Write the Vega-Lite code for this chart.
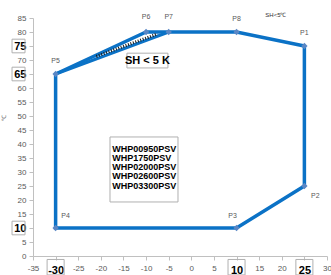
{
  "$schema": "https://vega.github.io/schema/vega-lite/v6.json",
  "width": 294,
  "height": 238,
  "autosize": {"type": "none"},
  "padding": {"left": 33, "top": 18, "right": 4, "bottom": 19},
  "config": {"view": {"stroke": null}, "font": "Liberation Sans", "axis": {"labelOverlap": false, "labelFlush": false, "labelBound": false}},
  "resolve": {"axis": {"x": "independent", "y": "independent"}},
  "datasets": {
    "points": [
      {"name": "P1", "ambient": 25, "water": 75},
      {"name": "P2", "ambient": 25, "water": 25},
      {"name": "P3", "ambient": 10, "water": 10},
      {"name": "P4", "ambient": -30, "water": 10},
      {"name": "P5", "ambient": -30, "water": 65},
      {"name": "P6", "ambient": -10, "water": 80},
      {"name": "P7", "ambient": -5, "water": 80},
      {"name": "P8", "ambient": 10, "water": 80}
    ],
    "outline": [
      {"seq": 1, "ambient": 25, "water": 75},
      {"seq": 2, "ambient": 25, "water": 25},
      {"seq": 3, "ambient": 10, "water": 10},
      {"seq": 4, "ambient": -30, "water": 10},
      {"seq": 5, "ambient": -30, "water": 65},
      {"seq": 6, "ambient": -10, "water": 80},
      {"seq": 7, "ambient": -5, "water": 80},
      {"seq": 8, "ambient": 10, "water": 80},
      {"seq": 9, "ambient": 25, "water": 75}
    ],
    "chord": [
      {"ambient": -30, "water": 65},
      {"ambient": -5, "water": 80}
    ],
    "hatch": [
      {"ambient": -21, "water": 71.3},
      {"ambient": -7.5, "water": 79.3}
    ],
    "models": [
      {"text": "WHP00950PSV\nWHP1750PSV\nWHP02000PSV\nWHP02600PSV\nWHP03300PSV"}
    ],
    "xboxes": [{"v": -30}, {"v": 10}, {"v": 25}],
    "yboxes": [{"v": 75}, {"v": 65}, {"v": 10}]
  },
  "layer": [
    {
      "data": {"name": "outline"},
      "mark": {"type": "line", "color": "#0B72C6", "strokeWidth": 3.5},
      "encoding": {
        "x": {
          "field": "ambient", "type": "quantitative",
          "scale": {"domain": [-35, 30], "nice": false, "zero": false},
          "axis": {
            "values": [-35, -30, -25, -20, -15, -10, -5, 0, 5, 10, 15, 20, 25, 30],
            "title": null, "grid": false,
            "domainColor": "#c0c0c0", "tickColor": "#c0c0c0", "tickSize": 4,
            "labelExpr": "datum.value + ''",
            "labelOverlap": false, "labelFlush": false, "labelPadding": 4,
            "labelFontSize": {"condition": {"test": "datum.value == -30 || datum.value == 10 || datum.value == 25", "value": 11}, "value": 8},
            "labelFontWeight": {"condition": {"test": "datum.value == -30 || datum.value == 10 || datum.value == 25", "value": "bold"}, "value": "normal"},
            "labelColor": {"condition": {"test": "datum.value == -30 || datum.value == 10 || datum.value == 25", "value": "#000000"}, "value": "#595959"}
          }
        },
        "y": {
          "field": "water", "type": "quantitative",
          "scale": {"domain": [0, 85], "nice": false},
          "axis": {
            "values": [0, 5, 10, 15, 20, 25, 30, 35, 40, 45, 50, 55, 60, 65, 70, 75, 80, 85],
            "title": "℃", "titleFontSize": 6, "titleColor": "#595959", "titleFontWeight": "normal",
            "titleX": -27, "titleY": 99,
            "grid": false,
            "domainColor": "#c0c0c0", "tickColor": "#c0c0c0", "tickSize": 4,
            "labelOverlap": false, "labelFlush": false, "labelPadding": 3,
            "labelFontSize": {"condition": {"test": "datum.value == 75 || datum.value == 65 || datum.value == 10", "value": 11}, "value": 8},
            "labelFontWeight": {"condition": {"test": "datum.value == 75 || datum.value == 65 || datum.value == 10", "value": "bold"}, "value": "normal"},
            "labelColor": {"condition": {"test": "datum.value == 75 || datum.value == 65 || datum.value == 10", "value": "#000000"}, "value": "#595959"}
          }
        },
        "order": {"field": "seq", "type": "quantitative"}
      }
    },
    {
      "data": {"name": "chord"},
      "mark": {"type": "line", "color": "#0B72C6", "strokeWidth": 3},
      "encoding": {
        "x": {"field": "ambient", "type": "quantitative", "axis": null},
        "y": {"field": "water", "type": "quantitative", "axis": null}
      }
    },
    {
      "data": {"name": "hatch"},
      "mark": {"type": "line", "color": "#1a1a1a", "strokeWidth": 3, "strokeDash": [1, 1.6]},
      "encoding": {
        "x": {"field": "ambient", "type": "quantitative", "axis": null},
        "y": {"field": "water", "type": "quantitative", "axis": null}
      }
    },
    {
      "data": {"name": "points"},
      "mark": {"type": "point", "shape": "diamond", "filled": true, "color": "#5A87C5", "size": 40, "opacity": 1},
      "encoding": {
        "x": {"field": "ambient", "type": "quantitative", "axis": null},
        "y": {"field": "water", "type": "quantitative", "axis": null}
      }
    },
    {
      "data": {"name": "points"},
      "transform": [{"filter": "datum.name == 'P1' || datum.name == 'P5' || datum.name == 'P8'"}],
      "mark": {"type": "text", "fontSize": 7, "color": "#595959", "dy": -13},
      "encoding": {
        "x": {"field": "ambient", "type": "quantitative", "axis": null},
        "y": {"field": "water", "type": "quantitative", "axis": null},
        "text": {"field": "name"}
      }
    },
    {
      "data": {"name": "points"},
      "transform": [{"filter": "datum.name == 'P6' || datum.name == 'P7'"}],
      "mark": {"type": "text", "fontSize": 7, "color": "#595959", "dy": -15},
      "encoding": {
        "x": {"field": "ambient", "type": "quantitative", "axis": null},
        "y": {"field": "water", "type": "quantitative", "axis": null},
        "text": {"field": "name"}
      }
    },
    {
      "data": {"name": "points"},
      "transform": [{"filter": "datum.name == 'P2'"}],
      "mark": {"type": "text", "fontSize": 7, "color": "#595959", "dx": 11, "dy": 10},
      "encoding": {
        "x": {"field": "ambient", "type": "quantitative", "axis": null},
        "y": {"field": "water", "type": "quantitative", "axis": null},
        "text": {"field": "name"}
      }
    },
    {
      "data": {"name": "points"},
      "transform": [{"filter": "datum.name == 'P3'"}],
      "mark": {"type": "text", "fontSize": 7, "color": "#595959", "dx": -4, "dy": -12},
      "encoding": {
        "x": {"field": "ambient", "type": "quantitative", "axis": null},
        "y": {"field": "water", "type": "quantitative", "axis": null},
        "text": {"field": "name"}
      }
    },
    {
      "data": {"name": "points"},
      "transform": [{"filter": "datum.name == 'P4'"}],
      "mark": {"type": "text", "fontSize": 7, "color": "#595959", "dx": 10, "dy": -12},
      "encoding": {
        "x": {"field": "ambient", "type": "quantitative", "axis": null},
        "y": {"field": "water", "type": "quantitative", "axis": null},
        "text": {"field": "name"}
      }
    },
    {
      "data": {"values": [{}]},
      "mark": {"type": "point", "shape": "M-1,-0.36L1,-0.36L1,0.36L-1,0.36Z", "size": 1681, "filled": false, "stroke": "#b0b0b0", "strokeWidth": 1, "opacity": 1},
      "encoding": {
        "x": {"datum": -9.7, "type": "quantitative", "axis": null},
        "y": {"datum": 69.8, "type": "quantitative", "axis": null}
      }
    },
    {
      "data": {"values": [{"label": "SH < 5 K"}]},
      "mark": {"type": "text", "fontSize": 11, "fontWeight": "bold", "color": "#000000", "font": "Liberation Sans"},
      "encoding": {
        "x": {"datum": -9.7, "type": "quantitative", "axis": null},
        "y": {"datum": 69.8, "type": "quantitative", "axis": null},
        "text": {"field": "label"}
      }
    },
    {
      "data": {"values": [{"label": "SH<5℃"}]},
      "mark": {"type": "text", "fontSize": 6, "color": "#333333"},
      "encoding": {
        "x": {"datum": 18.7, "type": "quantitative", "axis": null},
        "y": {"datum": 86, "type": "quantitative", "axis": null},
        "text": {"field": "label"}
      }
    },
    {
      "data": {"values": [{}]},
      "mark": {"type": "point", "shape": "M-1,-0.956L1,-0.956L1,0.956L-1,0.956Z", "size": 4624, "filled": false, "stroke": "#b0b0b0", "strokeWidth": 1, "opacity": 1},
      "encoding": {
        "x": {"datum": -10.46, "type": "quantitative", "axis": null},
        "y": {"datum": 30.9, "type": "quantitative", "axis": null}
      }
    },
    {
      "data": {"name": "models"},
      "mark": {"type": "text", "fontSize": 9, "fontWeight": "bold", "color": "#000000", "align": "left", "baseline": "top", "lineBreak": "\n", "lineHeight": 9.3},
      "encoding": {
        "x": {"datum": -17.5, "type": "quantitative", "axis": null},
        "y": {"datum": 39.8, "type": "quantitative", "axis": null},
        "text": {"field": "text"}
      }
    },
    {
      "data": {"name": "xboxes"},
      "mark": {"type": "point", "shape": "M-1.1,-1L1.1,-1L1.1,1L-1.1,1Z", "size": 240, "filled": false, "stroke": "#b0b0b0", "strokeWidth": 1, "opacity": 1},
      "encoding": {
        "x": {"field": "v", "type": "quantitative", "axis": null},
        "y": {"datum": -4.0, "type": "quantitative", "axis": null}
      }
    },
    {
      "data": {"name": "yboxes"},
      "mark": {"type": "point", "shape": "M-1,-1.05L1,-1.05L1,1.05L-1,1.05Z", "size": 169, "filled": false, "stroke": "#b0b0b0", "strokeWidth": 1, "opacity": 1},
      "encoding": {
        "x": {"datum": -38.2, "type": "quantitative", "axis": null},
        "y": {"field": "v", "type": "quantitative", "axis": null}
      }
    }
  ]
}
